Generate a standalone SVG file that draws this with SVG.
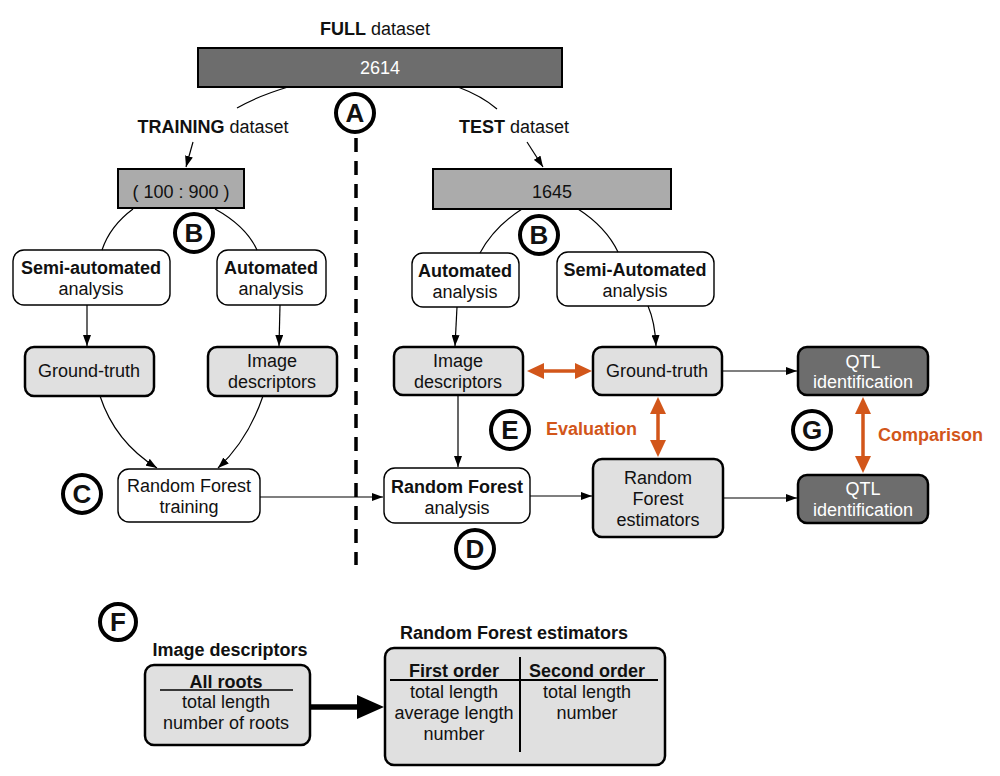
<svg xmlns="http://www.w3.org/2000/svg" width="1000" height="776" viewBox="0 0 1000 776">
<defs>
<marker id="ah" markerWidth="11" markerHeight="8" refX="11" refY="4" orient="auto" markerUnits="userSpaceOnUse"><path d="M0,0 L11,4 L0,8 z" fill="#000"/></marker>
</defs>
<style>
text{font-family:"Liberation Sans",Arial,sans-serif;font-size:18px;fill:#111;text-anchor:middle}
.b{font-weight:bold}
.w{fill:#fff}
.or{fill:#d2561a;font-weight:bold;text-anchor:start}
.thin{fill:#fff;stroke:#000;stroke-width:1.4}
.lg{fill:#e0e0e0;stroke:#000;stroke-width:2.5}
.mg{fill:#ababab;stroke:#000;stroke-width:2}
.dg{fill:#6d6d6d;stroke:#000;stroke-width:2}
.con{fill:none;stroke:#000;stroke-width:1.2}
.oa{stroke:#d2561a;stroke-width:3.5;fill:none}
.ohead{fill:#d2561a}
.circ{fill:#fff;stroke:#000;stroke-width:4}
.cl{font-size:26px;font-weight:bold}
</style>
<rect width="1000" height="776" fill="#fff"/>

<g id="full">
<text x="375" y="35"><tspan class="b">FULL</tspan> dataset</text>
<rect class="dg" x="198" y="48" width="364" height="39"/>
<text class="w" x="380" y="74">2614</text>
</g>
<g id="labelA"><circle class="circ" cx="355" cy="113" r="19"/><text class="cl" x="355" y="122">A</text></g>
<text x="213" y="133"><tspan class="b">TRAINING</tspan> dataset</text>
<text x="514" y="133"><tspan class="b">TEST</tspan> dataset</text>

<g id="train-set"><rect class="mg" x="118" y="169" width="126" height="39"/><text x="181" y="198">( 100 : 900 )</text></g>
<g id="test-set"><rect class="mg" x="433" y="169" width="238" height="40"/><text x="552" y="198">1645</text></g>
<g id="labelB1"><circle class="circ" cx="194" cy="233" r="19"/><text class="cl" x="194" y="242">B</text></g>
<g id="labelB2"><circle class="circ" cx="539" cy="235" r="19"/><text class="cl" x="539" y="244">B</text></g>

<g id="semi-l"><rect class="thin" x="13" y="250" width="157" height="55" rx="11"/><text class="b" x="91" y="274">Semi-automated</text><text x="91" y="295">analysis</text></g>
<g id="auto-l"><rect class="thin" x="217" y="250" width="109" height="55" rx="11"/><text class="b" x="271" y="274">Automated</text><text x="271" y="295">analysis</text></g>
<g id="auto-r"><rect class="thin" x="412" y="253" width="107" height="54" rx="11"/><text class="b" x="465" y="277">Automated</text><text x="465" y="298">analysis</text></g>
<g id="semi-r"><rect class="thin" x="557" y="252" width="157" height="54" rx="11"/><text class="b" x="635" y="276">Semi-Automated</text><text x="635" y="297">analysis</text></g>

<g id="gt-l"><rect class="lg" x="25" y="347" width="129" height="49" rx="9"/><text x="89" y="377">Ground-truth</text></g>
<g id="id-l"><rect class="lg" x="208" y="347" width="129" height="49" rx="9"/><text x="272" y="367">Image</text><text x="272" y="388">descriptors</text></g>
<g id="id-r"><rect class="lg" x="394" y="347" width="129" height="48" rx="9"/><text x="458" y="367">Image</text><text x="458" y="388">descriptors</text></g>
<g id="gt-r"><rect class="lg" x="593" y="347" width="129" height="48" rx="9"/><text x="657" y="377">Ground-truth</text></g>
<g id="qtl1"><rect class="dg" x="798" y="347" width="130" height="48" rx="9" style="stroke-width:2.5"/><text class="w" x="863" y="368">QTL</text><text class="w" x="863" y="388">identification</text></g>
<g id="qtl2"><rect class="dg" x="798" y="475" width="130" height="48" rx="9" style="stroke-width:2.5"/><text class="w" x="863" y="495">QTL</text><text class="w" x="863" y="516">identification</text></g>

<g id="rf-train"><rect class="thin" x="118" y="469" width="142" height="53" rx="11"/><text x="189" y="492">Random Forest</text><text x="189" y="513">training</text></g>
<g id="rf-an"><rect class="thin" x="384" y="468" width="146" height="55" rx="11"/><text class="b" x="457" y="493">Random Forest</text><text x="457" y="514">analysis</text></g>
<g id="rf-est"><rect class="lg" x="593" y="459" width="130" height="78" rx="9"/><text x="658" y="484">Random</text><text x="658" y="505">Forest</text><text x="658" y="526">estimators</text></g>

<g id="labelC"><circle class="circ" cx="82" cy="494" r="19"/><text class="cl" x="82" y="503">C</text></g>
<g id="labelD"><circle class="circ" cx="475" cy="549" r="19"/><text class="cl" x="475" y="558">D</text></g>
<g id="labelE"><circle class="circ" cx="510" cy="430" r="19"/><text class="cl" x="510" y="439">E</text></g>
<g id="labelG"><circle class="circ" cx="812" cy="430" r="19"/><text class="cl" x="812" y="439">G</text></g>
<text class="or" x="546" y="435">Evaluation</text>
<text class="or" x="878" y="441">Comparison</text>

<g id="connectors">
<line x1="356" y1="138" x2="356" y2="565" stroke="#000" stroke-width="3.5" stroke-dasharray="14,9"/>
<path class="con" d="M288,87 Q258,96 237,108"/>
<path class="con" d="M458,87 Q482,96 497,109"/>
<path class="con" d="M193,142 L186,167" marker-end="url(#ah)"/>
<path class="con" d="M527,142 L543,167" marker-end="url(#ah)"/>
<path class="con" d="M133,209 Q110,226 102,250"/>
<path class="con" d="M215,209 Q246,226 257,250"/>
<path class="con" d="M522,209 Q494,227 480,253"/>
<path class="con" d="M578,209 Q606,227 618,252"/>
<path class="con" d="M87,305 L87,346" marker-end="url(#ah)"/>
<path class="con" d="M280,305 L279,346" marker-end="url(#ah)"/>
<path class="con" d="M457,307 L455,346" marker-end="url(#ah)"/>
<path class="con" d="M648,306 Q655,322 656,346" marker-end="url(#ah)"/>
<path class="con" d="M100,396 Q115,442 157,468" marker-end="url(#ah)"/>
<path class="con" d="M263,396 Q248,440 218,468" marker-end="url(#ah)"/>
<path class="con" d="M458,395 L458,467" marker-end="url(#ah)"/>
<path class="con" d="M260,497 L383,497" marker-end="url(#ah)"/>
<path class="con" d="M530,496 L592,496" marker-end="url(#ah)"/>
<path class="con" d="M722,371 L797,371" marker-end="url(#ah)"/>
<path class="con" d="M723,498 L797,498" marker-end="url(#ah)"/>
<line class="oa" x1="540" y1="371" x2="580" y2="371"/>
<polygon class="ohead" points="527,371 544,363 544,379"/>
<polygon class="ohead" points="592,371 575,363 575,379"/>
<line class="oa" x1="658" y1="410" x2="658" y2="444"/>
<polygon class="ohead" points="658,397 650,414 666,414"/>
<polygon class="ohead" points="658,457 650,440 666,440"/>
<line class="oa" x1="863" y1="410" x2="863" y2="460"/>
<polygon class="ohead" points="863,397 855,414 871,414"/>
<polygon class="ohead" points="863,473 855,456 871,456"/>
<line x1="310" y1="707" x2="360" y2="707" stroke="#000" stroke-width="5.5"/>
<polygon points="357,695 384,707 357,719" fill="#000"/>
</g>

<g id="labelF"><circle class="circ" cx="118" cy="622" r="18"/><text class="cl" x="118" y="631">F</text></g>
<g id="legend-id">
<text class="b" x="230" y="656">Image descriptors</text>
<rect class="lg" x="145" y="665" width="165" height="80" rx="9"/>
<text class="b" x="226" y="688">All roots</text>
<line x1="160" y1="690" x2="293" y2="690" stroke="#000" stroke-width="1.5"/>
<text x="226" y="708">total length</text>
<text x="226" y="729">number of roots</text>
</g>
<g id="legend-rf">
<text class="b" x="514" y="639">Random Forest estimators</text>
<rect class="lg" x="385" y="648" width="280" height="117" rx="9"/>
<line x1="520" y1="657" x2="520" y2="752" stroke="#000" stroke-width="2"/>
<line x1="390" y1="680" x2="658" y2="680" stroke="#000" stroke-width="2"/>
<text class="b" x="454" y="677">First order</text>
<text class="b" x="587" y="677">Second order</text>
<text x="454" y="698">total length</text>
<text x="454" y="719">average length</text>
<text x="454" y="740">number</text>
<text x="587" y="698">total length</text>
<text x="587" y="719">number</text>
</g>
</svg>
